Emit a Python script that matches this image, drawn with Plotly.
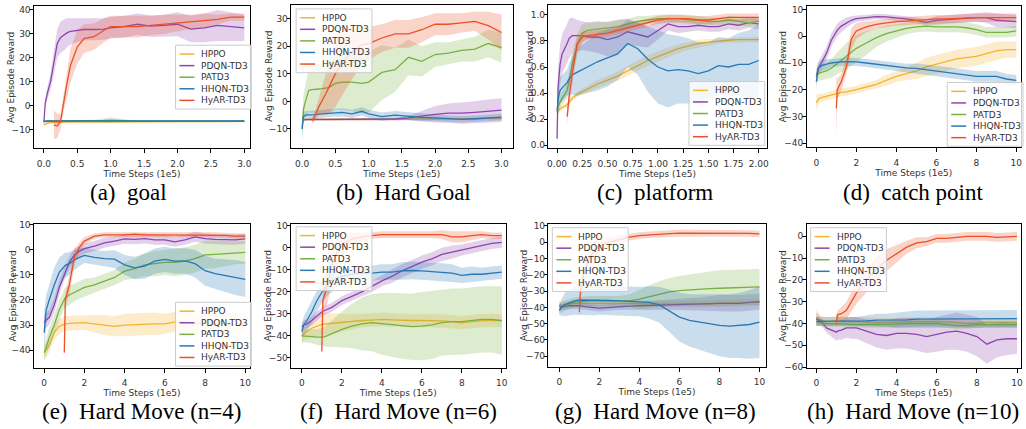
import plotly.graph_objects as go

# ---------------- data ----------------
SERIES = ["HPPO", "PDQN-TD3", "PATD3", "HHQN-TD3", "HyAR-TD3"]
COLORS = ["#f5b42f", "#8e44ad", "#78b13f", "#2878b5", "#ea5128"]

# (a) goal / (b) hard goal  -- time steps (1e5)
X_GOAL = [0, 0.02, 0.05, 0.1, 0.15, 0.2, 0.25, 0.3, 0.35, 0.4, 0.5, 0.6, 0.75, 0.9, 1.0,
          1.2, 1.4, 1.6, 1.8, 2.0, 2.2, 2.4, 2.6, 2.8, 3.0]

GOAL_HPPO = [-8.0, -7.6, -7.3, -7.1, -7.0, -6.9, -6.9, -6.8, -6.8, -6.8, -6.8, -6.8, -6.8, -6.7, -6.7,
             -6.7, -6.7, -6.7, -6.7, -6.6, -6.6, -6.5, -6.6, -6.7, -6.6]
GOAL_HPPO_SD = [0.6, 0.5, 0.5, 0.4, 0.4, 0.4, 0.4, 0.4, 0.4, 0.4, 0.4, 0.4, 0.4, 0.4, 0.4,
                0.4, 0.4, 0.4, 0.4, 0.4, 0.4, 0.5, 0.4, 0.4, 0.4]
GOAL_PDQN = [-7.0, 1.0, 5.0, 10.0, 18.0, 26.0, 28.5, 29.5, 30.5, 31.0, 31.5, 31.8, 31.8, 32.0, 32.5,
             33.0, 34.0, 33.2, 33.5, 34.0, 32.0, 32.5, 33.5, 33.0, 32.5]
GOAL_PDQN_SD = [0.5, 1.5, 2.5, 3.5, 5.0, 6.0, 6.5, 6.5, 6.0, 5.5, 5.0, 4.5, 4.5, 4.5, 4.5,
                4.5, 4.5, 4.5, 4.5, 5.0, 5.5, 6.0, 6.5, 6.0, 5.5]
GOAL_PATD3 = [-6.6, -6.5, -6.5, -6.5, -6.5, -6.5, -6.5, -6.5, -6.5, -6.5, -6.5, -6.5, -6.4, -6.2, -6.0,
              -6.3, -6.5, -6.5, -6.5, -6.5, -6.5, -6.5, -6.5, -6.5, -6.5]
GOAL_PATD3_SD = [0.4, 0.3, 0.3, 0.3, 0.3, 0.3, 0.3, 0.3, 0.3, 0.3, 0.3, 0.3, 0.5, 0.9, 1.2,
                 0.6, 0.3, 0.3, 0.3, 0.3, 0.3, 0.3, 0.3, 0.3, 0.3]
GOAL_HHQN = [-6.5, -6.4, -6.4, -6.4, -6.4, -6.4, -6.4, -6.4, -6.4, -6.4, -6.4, -6.4, -6.4, -6.4, -6.4,
             -6.4, -6.4, -6.4, -6.4, -6.3, -6.3, -6.4, -6.4, -6.4, -6.4]
GOAL_HHQN_SD = [0.3, 0.3, 0.3, 0.3, 0.3, 0.3, 0.3, 0.3, 0.3, 0.3, 0.3, 0.3, 0.3, 0.3, 0.3,
                0.3, 0.3, 0.3, 0.3, 0.3, 0.3, 0.3, 0.3, 0.3, 0.3]
GOAL_HYAR = [None, None, None, None, -8.0, -8.5, -6.5, 2.0, 10.0, 17.0, 24.5, 28.0, 28.8, 31.5, 33.0,
             33.0, 33.0, 33.5, 34.0, 34.5, 35.0, 35.5, 36.0, 37.0, 37.0]
GOAL_HYAR_SD = [None, None, None, None, 6.0, 5.0, 3.0, 4.0, 6.0, 7.0, 7.0, 6.0, 5.5, 5.0, 4.5,
                4.5, 4.5, 4.0, 4.0, 3.5, 3.0, 3.0, 2.0, 1.5, 1.5]

HG_HPPO = [-7.0, -6.8, -6.6, -6.5, -6.5, -6.5, -6.5, -6.5, -6.5, -6.5, -6.5, -6.5, -6.5, -6.5, -6.5,
           -6.5, -6.5, -6.4, -6.3, -6.3, -6.3, -6.3, -6.3, -6.2, -6.2]
HG_HPPO_SD = [0.4, 0.4, 0.4, 0.4, 0.4, 0.4, 0.4, 0.4, 0.4, 0.4, 0.4, 0.4, 0.4, 0.4, 0.4,
              0.4, 0.4, 0.4, 0.4, 0.4, 0.4, 0.4, 0.4, 0.4, 0.4]
HG_PDQN = [-6.6, -6.6, -6.6, -6.6, -6.6, -6.6, -6.6, -6.6, -6.6, -6.6, -6.6, -6.6, -6.6, -6.6, -6.6,
           -6.5, -6.4, -6.0, -5.3, -4.7, -4.3, -4.3, -4.0, -3.5, -3.2]
HG_PDQN_SD = [0.3, 0.3, 0.3, 0.3, 0.3, 0.3, 0.3, 0.3, 0.3, 0.3, 0.3, 0.3, 0.3, 0.3, 0.3,
              0.4, 0.5, 0.8, 1.8, 3.0, 3.5, 3.8, 4.0, 4.2, 4.3]
HG_PATD3 = [-10.0, -3.0, 0.0, 4.0, 4.3, 4.5, 4.5, 4.6, 4.7, 5.0, 6.5, 7.0, 7.0, 6.5, 7.0,
            10.5, 11.5, 16.0, 14.5, 17.0, 17.5, 18.5, 19.0, 21.0, 19.5]
HG_PATD3_SD = [3.0, 5.0, 6.0, 8.0, 8.5, 9.0, 9.0, 9.0, 9.5, 9.5, 9.5, 10.0, 10.5, 11.0, 11.0,
               10.0, 8.0, 6.5, 5.5, 4.5, 4.0, 4.0, 4.5, 5.0, 5.5]
HG_HHQN = [-10.0, -5.5, -5.0, -5.0, -5.0, -4.8, -4.6, -4.5, -4.3, -4.2, -4.0, -4.0, -4.5, -3.6, -4.5,
           -5.5, -5.0, -5.5, -5.8, -6.0, -6.3, -6.5, -6.3, -6.0, -5.7]
HG_HHQN_SD = [4.5, 2.0, 1.5, 1.5, 1.5, 1.5, 1.5, 1.5, 1.5, 1.5, 1.5, 1.5, 1.5, 1.5, 1.5,
              1.5, 1.5, 1.5, 1.5, 1.2, 1.2, 1.2, 1.2, 1.2, 1.2]
HG_HYAR = [None, None, None, None, -7.0, -5.0, -2.0, 0.0, 2.5, 5.0, 10.0, 14.0, 18.0, 20.5, 21.0,
           23.0, 24.5, 24.5, 26.0, 28.0, 28.0, 28.5, 29.0, 27.5, 25.0]
HG_HYAR_SD = [None, None, None, None, 1.0, 2.0, 3.0, 5.0, 7.0, 9.0, 12.0, 12.0, 10.0, 7.0, 6.0,
              5.0, 5.0, 5.0, 4.5, 4.0, 4.0, 3.5, 3.5, 5.0, 6.5]

# (c) platform
X_PF = [0, 0.01, 0.03, 0.05, 0.1, 0.12, 0.15, 0.2, 0.25, 0.3, 0.4, 0.5, 0.6, 0.7, 0.8, 0.9, 1.0,
        1.1, 1.2, 1.3, 1.4, 1.5, 1.6, 1.7, 1.8, 1.9, 2.0]
PF_HPPO = [0.24, 0.26, 0.28, 0.29, 0.31, 0.33, 0.36, 0.39, 0.41, 0.43, 0.47, 0.50, 0.53, 0.57, 0.61,
           0.65, 0.68, 0.71, 0.74, 0.76, 0.78, 0.79, 0.80, 0.805, 0.81, 0.81, 0.81]
PF_HPPO_SD = [0.02, 0.02, 0.02, 0.02, 0.02, 0.02, 0.02, 0.02, 0.02, 0.025, 0.03, 0.03, 0.035, 0.04,
              0.04, 0.04, 0.04, 0.04, 0.035, 0.03, 0.03, 0.025, 0.02, 0.02, 0.02, 0.02, 0.02]
PF_PDQN = [0.05, 0.45, 0.62, 0.70, 0.78, 0.82, 0.84, 0.84, 0.84, 0.83, 0.83, 0.81, 0.83, 0.87, 0.85,
           0.83, 0.88, 0.93, 0.91, 0.91, 0.92, 0.91, 0.91, 0.93, 0.92, 0.94, 0.93]
PF_PDQN_SD = [0.03, 0.15, 0.15, 0.15, 0.15, 0.15, 0.14, 0.12, 0.11, 0.11, 0.12, 0.13, 0.13, 0.10,
              0.09, 0.08, 0.07, 0.05, 0.05, 0.04, 0.04, 0.04, 0.04, 0.04, 0.04, 0.04, 0.04]
PF_PATD3 = [0.28, 0.30, 0.33, 0.36, 0.42, 0.50, 0.62, 0.77, 0.86, 0.88, 0.89, 0.90, 0.91, 0.93, 0.95,
            0.96, 0.97, 0.97, 0.97, 0.96, 0.96, 0.95, 0.95, 0.96, 0.95, 0.94, 0.95]
PF_PATD3_SD = [0.03, 0.04, 0.05, 0.05, 0.06, 0.07, 0.08, 0.08, 0.07, 0.06, 0.05, 0.05, 0.05, 0.04,
               0.04, 0.03, 0.03, 0.03, 0.03, 0.03, 0.03, 0.03, 0.03, 0.03, 0.03, 0.03, 0.03]
PF_HHQN = [0.26, 0.35, 0.42, 0.44, 0.48, 0.51, 0.54, 0.56, 0.58, 0.60, 0.64, 0.67, 0.70, 0.78, 0.74,
           0.66, 0.60, 0.57, 0.58, 0.57, 0.55, 0.57, 0.61, 0.60, 0.62, 0.62, 0.65]
PF_HHQN_SD = [0.05, 0.10, 0.10, 0.10, 0.10, 0.12, 0.15, 0.18, 0.19, 0.20, 0.22, 0.22, 0.20, 0.18,
              0.20, 0.25, 0.28, 0.28, 0.26, 0.25, 0.24, 0.22, 0.22, 0.22, 0.24, 0.26, 0.28]
PF_HYAR = [None, None, None, None, 0.22, 0.38, 0.55, 0.78, 0.83, 0.84, 0.85, 0.86, 0.88, 0.90, 0.92,
           0.94, 0.96, 0.97, 0.97, 0.97, 0.96, 0.96, 0.97, 0.98, 0.98, 0.98, 0.98]
PF_HYAR_SD = [None, None, None, None, 0.06, 0.08, 0.10, 0.06, 0.04, 0.03, 0.03, 0.03, 0.03, 0.03,
              0.03, 0.03, 0.03, 0.03, 0.03, 0.03, 0.03, 0.03, 0.03, 0.03, 0.03, 0.03, 0.03]

# (d)-(h): time steps 0..10 (1e5)
X_TEN = [0, 0.1, 0.25, 0.5, 0.75, 1.0, 1.05, 1.25, 1.5, 1.75, 2.0, 2.5, 3.0, 3.5, 4.0, 4.5, 5.0,
         5.5, 6.0, 6.5, 7.0, 7.5, 8.0, 8.5, 9.0, 9.5, 10.0]

CP_HPPO = [-25.0, -23.5, -23.0, -22.5, -22.0, -21.5, -21.5, -21.0, -20.8, -20.5, -20.0, -19.0, -18.0,
           -16.5, -15.0, -14.0, -13.0, -11.5, -10.5, -9.5, -8.5, -8.0, -7.5, -6.5, -5.5, -5.0, -5.0]
CP_HPPO_SD = [3.0, 2.0, 1.5, 1.5, 1.5, 1.5, 1.5, 1.5, 1.5, 1.5, 1.5, 1.5, 1.5, 2.0, 2.0, 2.5, 3.0,
              3.5, 3.5, 3.5, 3.5, 3.5, 3.5, 3.5, 3.5, 3.0, 3.0]
CP_PDQN = [-15.0, -12.0, -10.0, -6.5, -1.5, 2.0, 2.3, 3.8, 5.0, 6.0, 6.6, 7.0, 7.4, 7.3, 7.0, 6.5,
           6.0, 5.2, 6.0, 6.3, 6.5, 6.8, 7.0, 7.0, 6.0, 5.8, 5.5]
CP_PDQN_SD = [3.0, 2.5, 2.5, 2.5, 2.5, 2.5, 2.5, 2.2, 2.0, 1.5, 1.2, 1.0, 1.0, 1.0, 1.0, 1.0, 1.0,
              1.2, 1.5, 1.5, 1.5, 1.5, 1.5, 2.0, 2.5, 2.5, 2.5]
CP_PATD3 = [-15.0, -14.0, -13.5, -13.0, -12.0, -10.5, -10.0, -9.0, -7.5, -6.0, -4.5, -2.5, -0.5, 1.0,
            2.0, 3.0, 3.5, 3.8, 3.5, 3.5, 3.5, 3.2, 2.5, 1.5, 1.5, 1.5, 2.0]
CP_PATD3_SD = [2.0, 3.0, 3.0, 3.0, 3.5, 4.0, 4.0, 4.5, 5.0, 5.0, 5.0, 4.5, 3.5, 3.0, 2.5, 2.2, 2.0,
               2.0, 2.0, 2.0, 2.0, 2.0, 2.0, 2.0, 2.0, 2.0, 2.0]
CP_HHQN = [-17.0, -12.0, -11.0, -10.5, -10.0, -9.8, -9.8, -9.6, -9.5, -9.5, -9.6, -10.0, -10.5, -11.0,
           -11.5, -11.8, -12.0, -12.5, -13.0, -13.5, -14.0, -14.5, -15.0, -15.0, -15.0, -16.0, -16.5]
CP_HHQN_SD = [3.0, 2.0, 2.0, 2.0, 1.5, 1.5, 1.5, 1.5, 1.5, 1.5, 1.5, 1.5, 1.5, 1.5, 1.5, 1.5, 1.8,
              2.0, 2.0, 2.0, 2.0, 2.0, 2.0, 2.0, 2.0, 2.0, 2.0]
CP_HYAR = [None, None, None, None, None, -27.0, -20.0, -17.0, -11.5, -1.0, 2.0, 3.5, 4.5, 5.0, 5.5,
           5.7, 6.0, 6.3, 6.5, 6.5, 6.7, 6.8, 7.0, 7.0, 7.0, 7.0, 7.0]
CP_HYAR_SD = [None, None, None, None, None, 12.0, 4.0, 3.0, 3.0, 4.0, 3.0, 2.0, 1.5, 1.5, 1.5, 1.5,
              1.5, 1.5, 1.5, 1.5, 1.5, 1.5, 1.5, 1.5, 1.5, 1.5, 1.5]

HM4_HPPO = [-41.0, -40.0, -38.0, -33.0, -30.5, -29.5, -29.5, -29.3, -29.2, -29.0, -29.0, -29.5, -30.0,
            -30.5, -30.0, -29.8, -29.5, -29.5, -29.5, -28.7, -29.0, -29.3, -29.5, -29.5, -29.5, -29.5, -29.5]
HM4_HPPO_SD = [3.0, 3.0, 3.0, 3.0, 3.0, 3.0, 3.0, 3.0, 3.0, 3.0, 3.0, 3.5, 4.0, 4.0, 4.5, 4.5, 4.5,
               4.5, 4.0, 4.0, 4.0, 4.0, 4.0, 4.0, 4.0, 4.0, 4.0]
HM4_PDQN = [-29.0, -28.0, -27.0, -22.0, -15.0, -9.5, -9.0, -5.0, -2.0, -0.5, 0.5, 1.5, 2.8, 3.5, 4.4,
            4.2, 4.5, 4.0, 4.0, 3.2, 4.0, 5.2, 4.5, 4.2, 4.0, 4.0, 4.4]
HM4_PDQN_SD = [3.0, 3.0, 3.0, 3.0, 3.0, 2.5, 2.5, 2.5, 2.5, 2.0, 2.0, 2.0, 2.0, 2.0, 2.0, 2.0, 2.0,
               2.0, 2.0, 2.0, 2.0, 2.0, 2.0, 2.0, 2.0, 2.0, 2.0]
HM4_PATD3 = [-41.0, -39.0, -35.0, -30.0, -24.0, -19.5, -19.0, -18.0, -17.0, -16.0, -15.0, -14.0, -12.5,
             -11.0, -8.5, -7.5, -6.0, -5.5, -5.0, -5.0, -4.5, -3.5, -2.0, -1.8, -1.5, -1.2, -1.0]
HM4_PATD3_SD = [3.0, 3.5, 4.0, 4.0, 4.0, 4.0, 4.0, 4.0, 3.5, 3.5, 3.5, 3.0, 3.0, 3.0, 3.5, 4.0, 4.5,
                5.0, 5.0, 5.5, 5.5, 5.5, 5.5, 5.5, 5.0, 4.5, 4.5]
HM4_HHQN = [-33.0, -24.0, -20.0, -14.0, -9.0, -6.3, -6.2, -5.5, -4.0, -3.0, -2.2, -3.0, -3.5, -3.7,
            -6.0, -7.2, -6.5, -4.5, -3.8, -4.5, -4.4, -5.5, -8.3, -9.5, -10.2, -11.0, -11.8]
HM4_HHQN_SD = [8.0, 6.0, 6.0, 7.0, 6.0, 5.0, 5.0, 4.5, 4.0, 3.5, 3.0, 3.0, 3.0, 3.5, 4.0, 4.5, 5.0,
               5.0, 5.0, 5.0, 5.0, 5.5, 6.0, 6.0, 6.5, 7.0, 7.0]
HM4_HYAR = [None, None, None, None, None, -41.0, -20.0, -14.0, -3.0, 1.0, 3.5, 5.5, 6.0, 6.0, 6.0,
            6.3, 6.0, 6.0, 6.0, 6.0, 6.0, 6.0, 6.0, 6.0, 5.8, 5.5, 5.5]
HM4_HYAR_SD = [None, None, None, None, None, 2.5, 3.0, 4.0, 3.0, 2.0, 1.5, 1.0, 1.0, 1.0, 1.0, 1.0,
               1.0, 1.0, 1.0, 1.0, 1.0, 1.0, 1.0, 1.0, 1.0, 1.0, 1.0]

HM6_HPPO = [-40.0, -39.0, -38.0, -36.5, -35.5, -34.8, -34.7, -34.5, -34.3, -34.2, -34.0, -33.5, -33.0,
            -32.8, -32.5, -32.7, -33.0, -33.0, -33.0, -33.0, -33.2, -33.5, -34.0, -33.5, -33.0, -33.0, -33.0]
HM6_HPPO_SD = [3.0, 3.0, 3.5, 4.0, 4.5, 5.0, 5.0, 5.0, 4.5, 4.5, 4.0, 3.5, 3.0, 3.0, 3.0, 3.0, 3.0,
               3.0, 3.0, 3.0, 3.0, 3.0, 3.0, 3.0, 3.0, 3.0, 3.0]
HM6_PDQN = [-36.0, -35.0, -34.5, -33.0, -31.0, -29.0, -28.8, -28.0, -27.0, -25.5, -24.0, -22.0, -20.0,
            -17.5, -15.0, -13.0, -10.5, -8.5, -6.5, -5.0, -3.0, -2.0, -1.0, 0.0, 1.0, 2.0, 2.5]
HM6_PDQN_SD = [2.0, 2.0, 2.0, 2.0, 2.0, 2.0, 2.0, 2.0, 2.0, 2.0, 2.0, 2.0, 2.0, 2.5, 2.5, 3.0, 3.0,
               3.0, 3.0, 3.0, 3.0, 3.0, 2.5, 2.5, 2.5, 2.5, 2.5]
HM6_PATD3 = [-40.0, -40.0, -40.0, -40.3, -40.5, -40.5, -40.5, -40.0, -39.0, -38.0, -37.0, -35.5, -34.5,
             -34.0, -34.5, -35.0, -35.5, -35.8, -35.5, -35.0, -34.0, -33.5, -33.5, -33.0, -32.5, -32.5, -33.0]
HM6_PATD3_SD = [3.0, 3.0, 3.0, 3.0, 3.5, 4.0, 4.0, 5.0, 6.0, 7.0, 8.0, 10.0, 12.0, 13.0, 14.0, 14.5,
                15.0, 15.0, 15.5, 15.5, 15.0, 15.0, 15.0, 15.0, 15.0, 15.0, 15.5]
HM6_HHQN = [-38.0, -35.0, -33.0, -29.0, -24.0, -20.0, -19.5, -17.0, -15.0, -13.5, -13.0, -12.0, -11.5,
            -11.5, -11.0, -11.0, -10.5, -10.3, -10.5, -10.8, -11.0, -11.5, -12.5, -12.0, -12.0, -11.5, -11.0]
HM6_HHQN_SD = [3.0, 4.0, 4.5, 5.0, 5.0, 5.0, 5.0, 5.0, 5.0, 4.5, 4.0, 3.5, 3.5, 3.5, 3.5, 3.5, 4.0,
               4.0, 4.0, 4.0, 4.0, 4.0, 3.5, 3.5, 3.0, 3.0, 3.0]
HM6_HYAR = [None, None, None, None, None, -47.0, -24.0, -18.0, -8.0, -2.0, 1.5, 4.0, 5.0, 5.5, 6.0,
            6.0, 6.0, 6.0, 6.0, 6.0, 6.0, 5.0, 5.0, 5.5, 6.0, 5.5, 5.5]
HM6_HYAR_SD = [None, None, None, None, None, 1.5, 4.0, 8.0, 8.0, 6.0, 5.0, 3.0, 2.0, 1.5, 1.5, 1.5,
               1.5, 1.5, 1.5, 1.5, 2.0, 2.5, 2.5, 2.0, 1.5, 1.5, 1.5]

HM8_HPPO = [-38.0, -39.0, -38.5, -38.0, -37.5, -37.5, -37.5, -37.3, -37.2, -37.2, -37.3, -37.5, -37.5,
            -37.5, -37.7, -38.0, -38.0, -38.0, -38.0, -38.0, -38.0, -37.8, -37.5, -37.5, -37.3, -37.0, -37.0]
HM8_HPPO_SD = [3.0, 2.5, 2.0, 2.0, 2.0, 2.0, 2.0, 2.0, 2.0, 2.0, 2.0, 2.0, 2.0, 2.0, 2.0, 2.0, 2.0,
               2.0, 2.0, 2.0, 2.0, 2.0, 2.0, 2.0, 2.0, 2.0, 2.0]
HM8_PDQN = [-39.0, -40.0, -39.5, -39.0, -39.0, -39.0, -39.0, -39.5, -40.0, -40.2, -40.5, -40.0, -39.5,
            -39.3, -39.0, -38.8, -38.5, -38.3, -38.0, -38.0, -38.0, -37.8, -37.5, -37.5, -37.5, -37.0, -36.5]
HM8_PDQN_SD = [2.0, 2.0, 2.0, 2.0, 2.0, 2.0, 2.0, 2.0, 2.0, 2.0, 2.0, 2.0, 2.0, 2.2, 2.5, 2.8, 3.0,
               3.2, 3.5, 3.8, 4.0, 4.5, 5.0, 5.0, 5.0, 5.0, 5.0]
HM8_PATD3 = [-41.0, -40.0, -39.0, -38.0, -37.0, -36.5, -36.5, -36.3, -36.0, -36.0, -36.0, -36.0, -36.0,
             -36.0, -35.0, -33.5, -32.0, -30.5, -29.8, -29.3, -29.0, -28.5, -28.3, -28.0, -27.8, -27.5, -27.5]
HM8_PATD3_SD = [3.0, 3.0, 3.0, 3.0, 3.0, 3.0, 3.0, 3.0, 3.0, 3.0, 3.0, 3.0, 3.0, 4.0, 6.0, 7.0, 8.0,
                8.5, 9.0, 9.5, 10.0, 10.5, 11.0, 11.0, 11.0, 11.0, 11.0]
HM8_HHQN = [-42.0, -40.0, -38.5, -37.0, -36.0, -35.5, -35.5, -35.5, -35.8, -35.8, -35.5, -35.8, -36.0,
            -36.3, -36.5, -37.0, -38.5, -42.0, -46.0, -48.0, -49.0, -50.0, -51.0, -51.5, -51.0, -50.5, -49.0]
HM8_HHQN_SD = [3.0, 5.0, 7.0, 8.0, 8.5, 9.0, 9.0, 9.0, 9.0, 9.0, 9.0, 9.0, 9.0, 9.0, 9.0, 10.0, 11.0,
               13.0, 15.0, 16.0, 17.0, 18.0, 19.0, 19.5, 20.0, 21.0, 22.0]
HM8_HYAR = [None, None, None, None, None, -43.0, -30.0, -18.0, -10.0, -5.0, -2.5, 0.0, 1.5, 3.0, 4.0,
            4.5, 5.0, 5.2, 5.5, 5.5, 5.5, 5.5, 5.5, 5.5, 5.5, 5.3, 5.0]
HM8_HYAR_SD = [None, None, None, None, None, 2.0, 5.0, 6.0, 6.0, 5.0, 4.0, 3.0, 2.5, 2.0, 2.0, 2.0,
               2.0, 2.0, 2.0, 2.0, 2.0, 2.0, 2.0, 2.0, 2.0, 2.0, 2.0]

HM10_HPPO = [-37.0, -38.0, -38.5, -39.0, -39.0, -38.5, -38.5, -38.7, -39.0, -39.0, -39.0, -39.3, -39.5,
             -39.5, -39.5, -39.0, -39.0, -39.0, -39.0, -39.3, -39.5, -40.0, -40.0, -39.5, -39.5, -39.5, -39.5]
HM10_HPPO_SD = [4.0, 3.0, 2.0, 2.0, 2.0, 2.0, 2.0, 2.0, 2.0, 2.0, 2.0, 2.0, 2.0, 2.0, 2.0, 2.0, 2.0,
                2.0, 2.0, 2.0, 2.0, 2.0, 2.0, 2.0, 2.0, 2.0, 2.0]
HM10_PDQN = [-38.0, -38.5, -39.0, -42.0, -43.0, -44.0, -43.5, -43.0, -42.0, -42.0, -42.0, -43.5, -45.0,
             -45.5, -44.5, -44.5, -45.0, -46.0, -45.0, -44.0, -43.5, -44.5, -46.0, -49.5, -47.5, -47.0, -47.0]
HM10_PDQN_SD = [3.0, 2.5, 2.0, 2.0, 3.0, 4.0, 4.0, 4.5, 4.5, 5.0, 5.0, 5.5, 6.0, 6.5, 7.0, 7.0, 7.5,
                7.5, 8.0, 8.0, 8.5, 8.5, 9.0, 9.0, 8.0, 7.5, 7.0]
HM10_PATD3 = [-39.0, -39.5, -40.0, -40.0, -40.0, -40.0, -40.0, -40.0, -40.3, -40.5, -40.5, -40.5, -40.5,
              -40.5, -40.3, -40.0, -40.0, -40.0, -40.0, -40.5, -41.0, -41.0, -40.5, -40.5, -40.5, -40.5, -40.5]
HM10_PATD3_SD = [2.0, 1.5, 1.5, 1.5, 1.5, 1.5, 1.5, 1.5, 1.5, 1.5, 1.5, 1.5, 1.5, 1.5, 1.5, 1.5, 1.5,
                 1.5, 1.5, 1.5, 1.5, 1.5, 1.5, 1.5, 1.5, 1.5, 1.5]
HM10_HHQN = [-39.0, -39.0, -39.0, -39.0, -39.0, -39.0, -39.0, -39.0, -39.0, -39.0, -39.0, -38.8, -38.5,
             -38.5, -38.5, -38.3, -38.0, -38.0, -38.0, -38.0, -38.0, -38.0, -37.8, -37.8, -37.8, -37.8, -37.8]
HM10_HHQN_SD = [2.0, 2.0, 2.0, 2.0, 2.0, 2.0, 2.0, 2.0, 2.0, 2.0, 2.0, 2.5, 3.0, 3.0, 3.5, 3.5, 4.0,
                4.0, 4.0, 4.0, 4.0, 4.0, 4.0, 4.0, 4.0, 4.0, 4.0]
HM10_HYAR = [None, None, None, None, None, -40.0, -36.0, -35.5, -34.0, -30.0, -26.0, -20.0, -15.0,
             -11.0, -8.0, -5.0, -3.0, -2.5, -1.0, -1.0, -0.5, 0.0, 0.0, 0.0, -0.5, -0.3, 0.0]
HM10_HYAR_SD = [None, None, None, None, None, 2.0, 2.0, 3.0, 4.0, 4.5, 5.0, 5.5, 5.5, 5.0, 4.0, 3.0,
                2.5, 2.0, 2.0, 2.0, 2.0, 2.0, 2.0, 2.0, 2.0, 2.0, 2.0]

CAPTIONS = ["(a)\u00a0 goal", "(b)\u00a0 Hard Goal", "(c)\u00a0 platform", "(d)\u00a0 catch point",
            "(e)\u00a0 Hard Move (n=4)", "(f)\u00a0 Hard Move (n=6)", "(g)\u00a0 Hard Move (n=8)",
            "(h)\u00a0 Hard Move (n=10)"]
X_LABEL = "Time Steps (1e5)"
Y_LABEL = "Avg Episode Reward"

# ---------------- layout (pixel geometry of the page) ----------------
W, H = 1026, 429
panels = [
    dict(x=X_GOAL, s=[(GOAL_HPPO, GOAL_HPPO_SD), (GOAL_PDQN, GOAL_PDQN_SD), (GOAL_PATD3, GOAL_PATD3_SD),
                      (GOAL_HHQN, GOAL_HHQN_SD), (GOAL_HYAR, GOAL_HYAR_SD)],
         box=(33, 250, 2, 147), xc=(0, 43, 3, 244), yc=(40, 6, -10, 128),
         xd=0.5, xf=".1f", yd=10, yf="", leg=(175, 42), cap=(127.5, 192), yt=10),
    dict(x=X_GOAL, s=[(HG_HPPO, HG_HPPO_SD), (HG_PDQN, HG_PDQN_SD), (HG_PATD3, HG_PATD3_SD),
                      (HG_HHQN, HG_HHQN_SD), (HG_HYAR, HG_HYAR_SD)],
         box=(291, 513, 1, 147), xc=(0, 302, 3, 502), yc=(30, 15, -10, 127.3),
         xd=0.5, xf=".1f", yd=10, yf="", leg=(296, 5), cap=(403.5, 192), yt=268),
    dict(x=X_PF, s=[(PF_HPPO, PF_HPPO_SD), (PF_PDQN, PF_PDQN_SD), (PF_PATD3, PF_PATD3_SD),
                    (PF_HHQN, PF_HHQN_SD), (PF_HYAR, PF_HYAR_SD)],
         box=(549, 768, 1, 147), xc=(0, 557.7, 2, 760), yc=(1, 11, 0, 144),
         xd=0.25, xf=".2f", yd=0.2, yf=".1f", leg=(690, 79), cap=(656, 192), yt=530),
    dict(x=X_TEN, s=[(CP_HPPO, CP_HPPO_SD), (CP_PDQN, CP_PDQN_SD), (CP_PATD3, CP_PATD3_SD),
                     (CP_HHQN, CP_HHQN_SD), (CP_HYAR, CP_HYAR_SD)],
         box=(808, 1023, 2, 146), xc=(0, 817.7, 10, 1018.3), yc=(10, 5.7, -40, 141.7),
         xd=2, xf="", yd=10, yf="", leg=(949, 80), cap=(915, 192), yt=784),
    dict(x=X_TEN, s=[(HM4_HPPO, HM4_HPPO_SD), (HM4_PDQN, HM4_PDQN_SD), (HM4_PATD3, HM4_PATD3_SD),
                     (HM4_HHQN, HM4_HHQN_SD), (HM4_HYAR, HM4_HYAR_SD)],
         box=(33, 250, 224, 371), xc=(0, 43.3, 10, 245), yc=(10, 225, -40, 352.7),
         xd=2, xf="", yd=10, yf="", leg=(175, 304), cap=(140.5, 415), yt=11.5),
    dict(x=X_TEN, s=[(HM6_HPPO, HM6_HPPO_SD), (HM6_PDQN, HM6_PDQN_SD), (HM6_PATD3, HM6_PATD3_SD),
                     (HM6_HHQN, HM6_HHQN_SD), (HM6_HYAR, HM6_HYAR_SD)],
         box=(291, 506, 224, 371), xc=(0, 301.7, 10, 502.3), yc=(10, 226, -50, 360.7),
         xd=2, xf="", yd=10, yf="", leg=(296, 227), cap=(399, 415), yt=268),
    dict(x=X_TEN, s=[(HM8_HPPO, HM8_HPPO_SD), (HM8_PDQN, HM8_PDQN_SD), (HM8_PATD3, HM8_PATD3_SD),
                     (HM8_HHQN, HM8_HHQN_SD), (HM8_HYAR, HM8_HYAR_SD)],
         box=(549, 767, 224, 370), xc=(0, 560, 10, 760.7), yc=(10, 226, -70, 359),
         xd=2, xf="", yd=10, yf="", leg=(553, 228), cap=(656, 415), yt=525),
    dict(x=X_TEN, s=[(HM10_HPPO, HM10_HPPO_SD), (HM10_PDQN, HM10_PDQN_SD), (HM10_PATD3, HM10_PATD3_SD),
                     (HM10_HHQN, HM10_HHQN_SD), (HM10_HYAR, HM10_HYAR_SD)],
         box=(808, 1023, 224, 371), xc=(0, 817.7, 10, 1019), yc=(0, 236.7, -60, 370),
         xd=2, xf="", yd=10, yf="", leg=(812, 228), cap=(914.5, 415), yt=784),
]


def hexrgba(c, a):
    c = c.lstrip("#")
    return "rgba(%d,%d,%d,%.3f)" % (int(c[0:2], 16), int(c[2:4], 16), int(c[4:6], 16), a)


def px2val(cal, p):
    v1, p1, v2, p2 = cal
    return v1 + (p - p1) * (v2 - v1) / (p2 - p1)


TICK_FONT = dict(family="DejaVu Sans", size=9, color="#333")
fig = go.Figure()
layout = dict(width=W, height=H, margin=dict(l=0, r=0, t=0, b=0), showlegend=False,
              paper_bgcolor="white", plot_bgcolor="white")
shapes, annots = [], []

for i, p in enumerate(panels):
    n = "" if i == 0 else str(i + 1)
    xa, ya = "x" + n, "y" + n
    L, R, T, B = p["box"]
    for k, (mean, sd) in enumerate(p["s"]):
        if len(mean) != len(p["x"]) or len(sd) != len(p["x"]):
            raise ValueError("length mismatch panel %d series %d" % (i, k))
        pts = [(x, m, s) for x, m, s in zip(p["x"], mean, sd) if m is not None]
        xs = [q[0] for q in pts]
        hi = [q[1] + q[2] for q in pts]
        lo = [q[1] - q[2] for q in pts]
        fig.add_trace(go.Scatter(x=xs + xs[::-1], y=hi + lo[::-1], fill="toself", mode="lines",
                                 line=dict(width=0), fillcolor=hexrgba(COLORS[k], 0.25),
                                 hoverinfo="skip", xaxis=xa, yaxis=ya))
        fig.add_trace(go.Scatter(x=xs, y=[q[1] for q in pts], mode="lines", name=SERIES[k],
                                 line=dict(color=COLORS[k], width=1.3), xaxis=xa, yaxis=ya))
    axcommon = dict(showline=True, linecolor="black", linewidth=1, mirror=True, showgrid=False,
                    zeroline=False, ticks="outside", ticklen=3.5, tickwidth=1, tickcolor="black",
                    tickfont=TICK_FONT)
    layout["xaxis" + n] = dict(axcommon, domain=[L / W, R / W], anchor=ya,
                               range=[px2val(p["xc"], L), px2val(p["xc"], R)],
                               tick0=0, dtick=p["xd"], tickformat=p["xf"], ticklabelstandoff=3,
                               title=dict(text=X_LABEL, font=TICK_FONT, standoff=1))
    layout["yaxis" + n] = dict(axcommon, domain=[1 - B / H, 1 - T / H], anchor=xa,
                               range=[px2val(p["yc"], B), px2val(p["yc"], T)],
                               tick0=0, dtick=p["yd"], tickformat=p["yf"], ticklabelstandoff=-3)
    # y-axis title placed like the reference
    annots.append(dict(text=Y_LABEL, xref="paper", yref="paper", x=p["yt"] / W,
                       y=1 - (T + B) / 2 / H, xanchor="center", yanchor="middle", textangle=-90,
                       showarrow=False, font=TICK_FONT))
    # legend box (drawn like a matplotlib legend)
    lx, ly = p["leg"]
    lw, lh = 76, 65
    shapes.append(dict(type="rect", xref="paper", yref="paper", x0=lx / W, x1=(lx + lw) / W,
                       y0=1 - (ly + lh) / H, y1=1 - ly / H, line=dict(color="#cccccc", width=1),
                       fillcolor="rgba(255,255,255,0.8)", layer="above"))
    for k, name in enumerate(SERIES):
        yy = ly + 9 + 11.8 * k
        shapes.append(dict(type="line", xref="paper", yref="paper", x0=(lx + 4) / W, x1=(lx + 19) / W,
                           y0=1 - yy / H, y1=1 - yy / H, line=dict(color=COLORS[k], width=1.5),
                           layer="above"))
        annots.append(dict(text=name, xref="paper", yref="paper", x=(lx + 24) / W, y=1 - yy / H,
                           xanchor="left", yanchor="middle", showarrow=False,
                           font=dict(family="DejaVu Sans", size=9, color="#333")))
    cx, cy = p["cap"]
    annots.append(dict(text=CAPTIONS[i], xref="paper", yref="paper", x=cx / W, y=1 - cy / H,
                       xanchor="center", yanchor="middle", showarrow=False,
                       font=dict(family="Liberation Serif", size=23, color="black")))

layout["shapes"] = shapes
layout["annotations"] = annots
fig.update_layout(**layout)
fig.write_html("out.html", config={"staticPlot": True},
               post_script="document.body.style.margin='0';document.body.style.overflow='hidden';")
